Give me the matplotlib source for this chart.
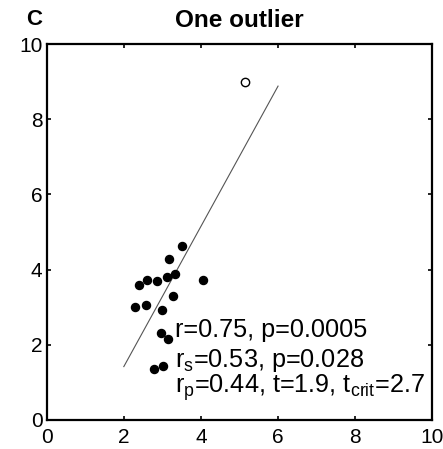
import matplotlib
matplotlib.use('Agg')
import matplotlib.pyplot as plt

plt.rcParams['font.family'] = ['Liberation Sans', 'DejaVu Sans']
plt.rcParams['mathtext.fontset'] = 'custom'
plt.rcParams['mathtext.rm'] = 'Liberation Sans'
plt.rcParams['mathtext.it'] = 'Liberation Sans'

# main cluster of points
x_pts = [3.50, 3.17, 2.40, 2.61, 2.87, 3.12, 3.34, 4.06, 2.29, 2.57,
         3.28, 2.99, 2.96, 3.14, 3.01, 2.79]
y_pts = [4.64, 4.27, 3.58, 3.72, 3.69, 3.81, 3.87, 3.72, 3.00, 3.06,
         3.30, 2.92, 2.31, 2.16, 1.44, 1.36]

# the single outlier
x_out = [5.15]
y_out = [9.0]

# regression line end points
x_fit = [2.0, 6.0]
y_fit = [1.42, 8.88]

stats_lines = [
    'r=0.75, p=0.0005',
    r'r$_{\rm s}$=0.53, p=0.028',
    r'r$_{\rm p}$=0.44, t=1.9, t$_{\rm crit}$=2.7',
]

fig = plt.figure(figsize=(4.43, 4.49), dpi=100)
ax = fig.add_axes([0.1054, 0.0646, 0.8704, 0.8374])

ax.plot(x_fit, y_fit, color='#555555', lw=0.8)
ax.plot(x_pts, y_pts, 'o', color='black', ms=5.8, mec='black')
ax.plot(x_out, y_out, 'o', mfc='white', mec='black', ms=6.0, mew=1.0)

ax.set_xlim(0, 10)
ax.set_ylim(0, 10)
ax.set_xticks([0, 2, 4, 6, 8, 10])
ax.set_yticks([0, 2, 4, 6, 8, 10])
ax.tick_params(direction='in', length=3, width=1.2, labelsize=15,
               top=True, right=True)
ax.tick_params(axis='x', pad=6)
ax.tick_params(axis='y', pad=3)
for s in ax.spines.values():
    s.set_linewidth(1.6)

# stats text, one line at a time
y_text = [0.2215, 0.141, 0.072]
for line, yy in zip(stats_lines, y_text):
    ax.text(0.333, yy, line, transform=ax.transAxes, fontsize=18.2,
            ha='left', va='baseline')

ax.set_title('One outlier', fontsize=17.5, fontweight='bold', pad=12)
fig.text(0.077, 0.957, 'C', fontsize=16, fontweight='bold',
         ha='center', va='center')

fig.savefig('out.png', dpi=100)
